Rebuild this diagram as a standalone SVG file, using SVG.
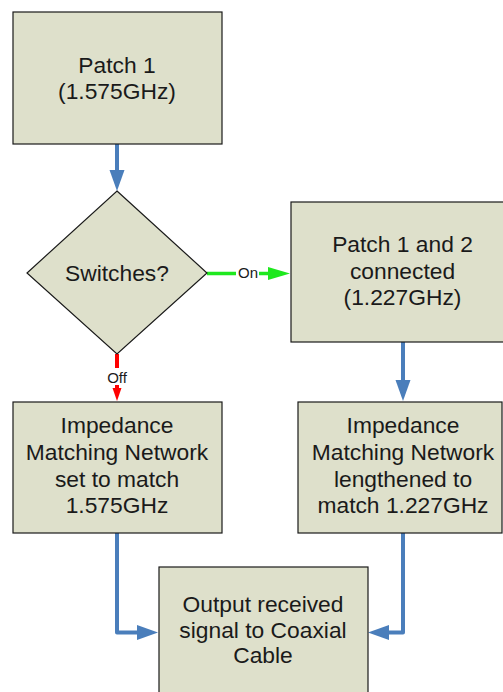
<svg xmlns="http://www.w3.org/2000/svg" width="503" height="692" viewBox="0 0 503 692">
<style>
.box{fill:#dee0cb;stroke:#1a1a1a;stroke-width:1.2}
.t{font-family:"Liberation Sans",Arial,sans-serif;font-size:22.8px;fill:#1a1a1a;text-anchor:middle}
.lbl{font-family:"Liberation Sans",Arial,sans-serif;font-size:15px;fill:#1a1a1a;text-anchor:middle}
.blue{fill:none;stroke:#4a7ebb;stroke-width:4;stroke-linejoin:round}
.green{fill:none;stroke:#1ee81e;stroke-width:3.5}
.red{fill:none;stroke:#ff0000;stroke-width:4}
</style>
<defs>
<marker id="ab" markerUnits="userSpaceOnUse" markerWidth="22" markerHeight="16" refX="0" refY="8" orient="auto" overflow="visible">
<path d="M0,0.5 L21,8 L0,15.5 Z" fill="#4a7ebb"/>
</marker>
<marker id="ag" markerUnits="userSpaceOnUse" markerWidth="23" markerHeight="14" refX="0" refY="7" orient="auto" overflow="visible">
<path d="M0,0.5 L22,7 L0,13.5 Z" fill="#1ee81e"/>
</marker>
<marker id="ar" markerUnits="userSpaceOnUse" markerWidth="14" markerHeight="10" refX="0" refY="5" orient="auto" overflow="visible">
<path d="M0,0.5 L13,5 L0,9.5 Z" fill="#ff0000"/>
</marker>
</defs>
<g id="connectors">
<path class="blue" d="M117,144 V170" marker-end="url(#ab)"/>
<path class="green" d="M207,273.5 H268" marker-end="url(#ag)"/>
<rect x="236" y="265" width="23" height="16" fill="#fff"/>
<text class="lbl" x="248" y="278">On</text>
<path class="red" d="M117,354 V388" marker-end="url(#ar)"/>
<rect x="106" y="368" width="22" height="17" fill="#fff"/>
<text class="lbl" x="117" y="382.5">Off</text>
<path class="blue" d="M403,342 V380" marker-end="url(#ab)"/>
<path class="blue" d="M117,533 V632.5 H137" marker-end="url(#ab)"/>
<path class="blue" d="M403,533 V632.5 H389" marker-end="url(#ab)"/>
</g>
<g id="patch1">
<rect class="box" x="13" y="12" width="209" height="132"/>
<text class="t" x="117" y="73">Patch 1</text>
<text class="t" x="117" y="99">(1.575GHz)</text>
</g>
<g id="switches">
<polygon class="box" points="117,191 207,273 117,354 27,273"/>
<text class="t" x="117" y="281">Switches?</text>
</g>
<g id="patch12">
<rect class="box" x="291" y="202" width="230" height="140"/>
<text class="t" x="402.5" y="252">Patch 1 and 2</text>
<text class="t" x="402.5" y="279">connected</text>
<text class="t" x="402.5" y="305">(1.227GHz)</text>
</g>
<g id="imn1">
<rect class="box" x="13" y="402" width="209" height="131"/>
<text class="t" x="117" y="433">Impedance</text>
<text class="t" x="117" y="460">Matching Network</text>
<text class="t" x="117" y="487">set to match</text>
<text class="t" x="117" y="513">1.575GHz</text>
</g>
<g id="imn2">
<rect class="box" x="298" y="402" width="204" height="131"/>
<text class="t" x="403" y="433">Impedance</text>
<text class="t" x="403" y="460">Matching Network</text>
<text class="t" x="403" y="487">lengthened to</text>
<text class="t" x="403" y="513">match 1.227GHz</text>
</g>
<g id="output">
<rect class="box" x="159" y="567" width="209" height="140"/>
<text class="t" x="263" y="612">Output received</text>
<text class="t" x="263" y="638">signal to Coaxial</text>
<text class="t" x="263" y="663">Cable</text>
</g>
</svg>
